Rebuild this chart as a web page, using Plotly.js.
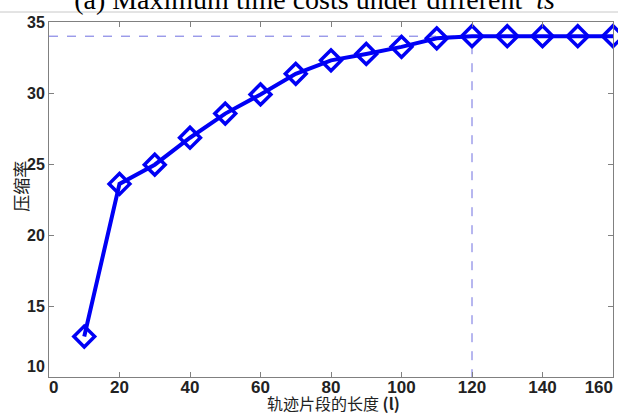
<!DOCTYPE html>
<html>
<head>
<meta charset="utf-8">
<script src="https://cdn.plot.ly/plotly-3.0.1.min.js"></script>
<style>
  html, body { margin: 0; padding: 0; background: #ffffff; }
  #chart { width: 618px; height: 413px; }
</style>
</head>
<body>
<div id="chart"></div>
<script>
// Segment length (l) and resulting compression ratio
const segmentLength = [10, 20, 30, 40, 50, 60, 70, 80, 90, 100, 110, 120, 130, 140, 150, 160];
const compressionRatio = [12.85, 23.6, 24.95, 26.85, 28.55, 29.9, 31.35, 32.3, 32.75, 33.25, 33.85, 34.0, 34.0, 34.0, 34.0, 34.0];

const xTicks = [0, 20, 40, 60, 80, 100, 120, 140, 160];
const yTicks = [10, 15, 20, 25, 30, 35];

// Saturation point: the ratio stops growing at l = 120
const peakLength = 120;
const peakRatio = compressionRatio[segmentLength.indexOf(peakLength)];
const guideX = [0, peakLength, peakLength];
const guideY = [peakRatio, peakRatio, 10];

const blue = '#0000f5';
const axisGray = '#808080';
const nb = n => '&nbsp;'.repeat(n);

// Edge labels are nudged inward so they stay inside the frame
const xTickText = xTicks.map((v, i) => {
  if (i === 0) return nb(2) + v;
  if (i === xTicks.length - 1) return v + nb(6);
  return String(v);
});
const yTickText = yTicks.map((v, i) => (i === 0 ? v + '<br>' + nb(1) : String(v)));

const traces = [
  {
    x: guideX,
    y: guideY,
    mode: 'lines',
    line: { color: '#6f6fe0', width: 1, dash: 'dash' },
    hoverinfo: 'skip',
    showlegend: false
  },
  {
    x: segmentLength,
    y: compressionRatio,
    mode: 'lines+markers',
    line: { color: blue, width: 4 },
    marker: { symbol: 'diamond-open', size: 16, color: blue, line: { color: blue, width: 3.5 } },
    cliponaxis: false,
    showlegend: false
  }
];

const axisCommon = {
  showline: true,
  linecolor: axisGray,
  linewidth: 1,
  mirror: 'ticks',
  ticks: 'inside',
  ticklen: 5,
  tickcolor: axisGray,
  showgrid: false,
  zeroline: false,
  ticklabeloverflow: 'allow'
};

const layout = {
  width: 618,
  height: 413,
  margin: { l: 49, r: 5, t: 22, b: 36 },
  paper_bgcolor: '#ffffff',
  plot_bgcolor: '#ffffff',
  title: {
    text: '(a) Maximum time costs under different' + nb(2) + '<i>ts</i>',
    font: { family: 'Liberation Serif, Times New Roman, serif', size: 28, color: '#000000' },
    xref: 'container',
    x: 0.509,
    xanchor: 'center',
    yref: 'container',
    y: 0.978,
    yanchor: 'bottom'
  },
  xaxis: Object.assign({}, axisCommon, {
    range: [0, 160],
    tickmode: 'array',
    tickvals: xTicks,
    ticktext: xTickText,
    ticklabelstandoff: -5,
    tickfont: { family: 'Liberation Sans, Arial, sans-serif', size: 17, weight: 'bold', color: '#222222' }
  }),
  yaxis: Object.assign({}, axisCommon, {
    range: [10, 35],
    tickmode: 'array',
    tickvals: yTicks,
    ticktext: yTickText,
    tickfont: { family: 'Liberation Sans, Arial, sans-serif', size: 16, weight: 'bold', color: '#222222' }
  }),
  annotations: [
    {
      text: '轨迹片段的长度 <b>(l)</b>',
      xref: 'paper', yref: 'paper',
      x: 0.505, y: -0.073,
      xanchor: 'center', yanchor: 'middle',
      showarrow: false,
      font: { family: 'Noto Sans CJK SC, Liberation Sans, sans-serif', size: 16, color: '#222222' }
    },
    {
      text: '压缩率',
      xref: 'paper', yref: 'paper',
      x: -0.052, y: 0.538,
      xanchor: 'center', yanchor: 'middle',
      textangle: -90,
      showarrow: false,
      font: { family: 'Noto Sans CJK SC, sans-serif', size: 17, color: '#222222' }
    }
  ],
  shapes: [
    {
      type: 'line',
      xref: 'paper', yref: 'paper',
      x0: -49 / 564, x1: 569 / 564,
      y0: 365 / 355, y1: 365 / 355,
      line: { color: '#c8c8c8', width: 1 }
    }
  ]
};

Plotly.newPlot('chart', traces, layout, { displayModeBar: false, staticPlot: true });
</script>
</body>
</html>
